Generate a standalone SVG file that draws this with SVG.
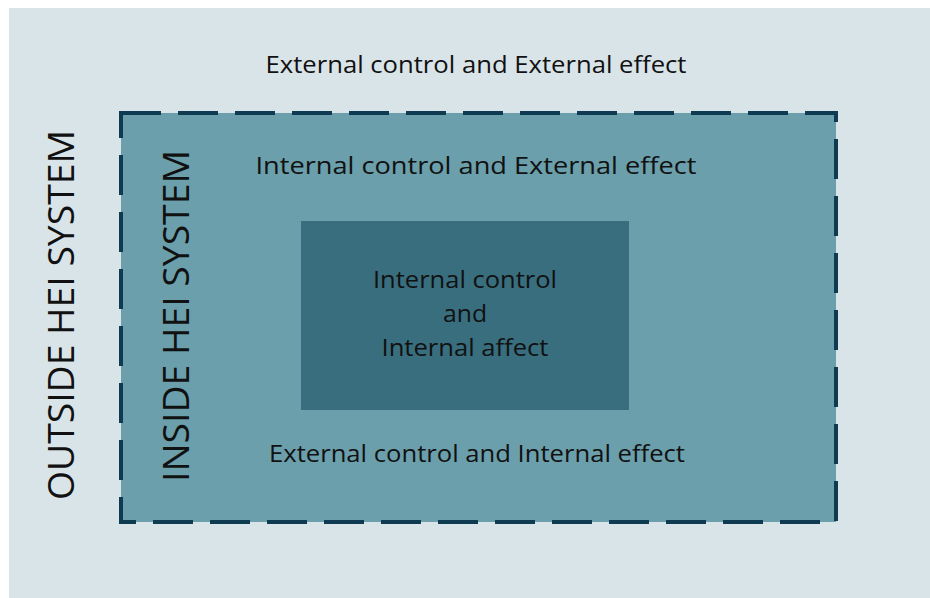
<svg xmlns="http://www.w3.org/2000/svg" width="930" height="598" viewBox="0 0 930 598">
<style>
.t{font-family:"Open Sans","Liberation Sans",sans-serif;font-size:24px;fill:#111;}
.v{font-family:"Open Sans","Liberation Sans",sans-serif;font-size:37px;fill:#111;}
</style>
<rect x="0" y="0" width="930" height="598" fill="#ffffff"/>
<g id="outside">
<rect x="9" y="8" width="921" height="590" fill="#d9e4e9"/>
<text class="t" x="476" y="73" text-anchor="middle" textLength="421" lengthAdjust="spacingAndGlyphs">External control and External effect</text>
<text class="v" transform="translate(74,315) rotate(-90)" text-anchor="middle" textLength="370" lengthAdjust="spacingAndGlyphs">OUTSIDE HEI SYSTEM</text>
</g>
<g id="inside">
<rect x="121" y="113" width="715" height="409" fill="#6a9fab" stroke="#0e3a52" stroke-width="4" stroke-dasharray="40 17"/>
<text class="t" x="476" y="174" text-anchor="middle" textLength="441" lengthAdjust="spacingAndGlyphs">Internal control and External effect</text>
<text class="t" x="477" y="462" text-anchor="middle" textLength="416" lengthAdjust="spacingAndGlyphs">External control and Internal effect</text>
<text class="v" transform="translate(189,316) rotate(-90)" text-anchor="middle" textLength="332" lengthAdjust="spacingAndGlyphs">INSIDE HEI SYSTEM</text>
</g>
<g id="core">
<rect x="301" y="221" width="328" height="189" fill="#386e7e"/>
<text class="t" x="465" y="288" text-anchor="middle" textLength="184" lengthAdjust="spacingAndGlyphs">Internal control</text>
<text class="t" x="465" y="322" text-anchor="middle" textLength="44" lengthAdjust="spacingAndGlyphs">and</text>
<text class="t" x="465" y="356" text-anchor="middle" textLength="167" lengthAdjust="spacingAndGlyphs">Internal affect</text>
</g>
<g id="connectors"></g>
</svg>
